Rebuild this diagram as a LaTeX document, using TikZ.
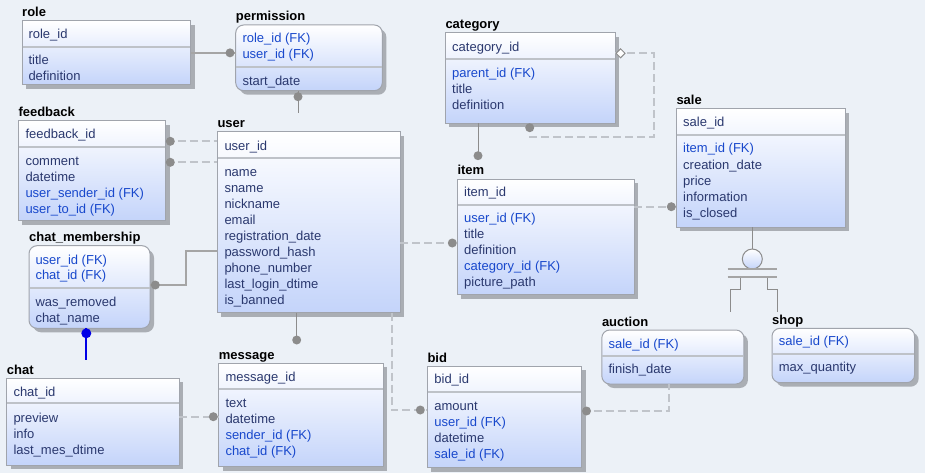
\documentclass[tikz,border=0pt]{standalone}
\usepackage{fontspec}
\setmainfont{Liberation Sans}
\definecolor{bgc}{RGB}{236,241,247}
\definecolor{botc}{RGB}{196,212,250}
\definecolor{bordc}{RGB}{160,164,172}
\definecolor{divc}{RGB}{190,194,200}
\definecolor{shadowc}{RGB}{170,174,180}
\definecolor{attrc}{RGB}{42,56,110}
\definecolor{fkc}{RGB}{24,72,204}
\definecolor{linec}{RGB}{165,165,165}
\definecolor{dashc}{RGB}{192,196,202}
\definecolor{dotc}{RGB}{140,140,140}
\definecolor{bluec}{RGB}{0,0,230}
\tikzset{
  tbl/.style={draw=bordc, line width=1pt, top color=white, bottom color=botc, inner sep=0pt, outer sep=0pt},
  divl/.style={draw=divc, line width=2pt},
  ttl/.style={anchor=base west, inner sep=0pt, font=\bfseries\fontsize{13}{15}\selectfont, text=black},
  attr/.style={anchor=base west, inner sep=0pt, font=\fontsize{13}{16}\selectfont, text=attrc},
  fk/.style={attr, text=fkc},
  sol/.style={draw=linec, line width=1.5pt},
  thinl/.style={draw=dotc, line width=1pt},
  dsh/.style={draw=dashc, line width=2pt, dash pattern=on 8pt off 4pt},
  dotf/.style={fill=dotc},
  bluel/.style={draw=bluec, line width=2pt},
  subc/.style={circle, draw=dotc, line width=1pt, top color=white, bottom color=botc, minimum size=20pt, inner sep=0pt},
  bar/.style={draw=linec, line width=2pt},
}
\newcommand{\etab}[8]{%
  \fill[shadowc,#8] ({#2+4},{#3+4}) rectangle ({#4+4},{#5+4});
  \node[tbl,#8,minimum width={(#4-#2)*1pt},minimum height={(#5-#3)*1pt}] (#1) at ({(#2+#4)/2},{(#3+#5)/2}) {};
  \draw[divl] ({#2+0.5},#6) -- ({#4-0.5},#6);
  \node[ttl] (#1-title) at (#2,{#3-4}) {#7};
}
\begin{document}
\begin{tikzpicture}[x=1pt,y=-1pt]
\useasboundingbox (0,0) rectangle (925,473);
\fill[bgc] (0,0) rectangle (925,473);

% role
\etab{role}{22}{20.7}{190.7}{85}{46.7}{role}{sharp corners}
\node[attr] (role-a1) at (28.3,38.5) {role\_id};
\node[attr] (role-a2) at (28.3,64.5) {title};
\node[attr] (role-a3) at (28.3,80.5) {definition};

% permission
\etab{perm}{235.7}{25}{382.3}{90.7}{66.7}{permission}{rounded corners=8pt}
\node[fk] (perm-a1) at (242.3,43) {role\_id (FK)};
\node[fk] (perm-a2) at (242.3,59) {user\_id (FK)};
\node[attr] (perm-a3) at (242.3,85.2) {start\_date};

% feedback
\etab{fb}{18.3}{120.7}{165.7}{220.7}{146.7}{feedback}{sharp corners}
\node[attr] (fb-a1) at (25.3,138.5) {feedback\_id};
\node[attr] (fb-a2) at (25.3,165.2) {comment};
\node[attr] (fb-a3) at (25.3,181.2) {datetime};
\node[fk] (fb-a4) at (25.3,197.2) {user\_sender\_id (FK)};
\node[fk] (fb-a5) at (25.3,213.2) {user\_to\_id (FK)};

% user
\etab{user}{217.3}{132}{400.3}{312.7}{158.3}{user}{sharp corners}
\node[attr] (user-a1) at (224.3,150.2) {user\_id};
\node[attr] (user-a2) at (224.3,176.2) {name};
\node[attr] (user-a3) at (224.3,192.2) {sname};
\node[attr] (user-a4) at (224.3,208.2) {nickname};
\node[attr] (user-a5) at (224.3,224.2) {email};
\node[attr] (user-a6) at (224.3,240.2) {registration\_date};
\node[attr] (user-a7) at (224.3,256.2) {password\_hash};
\node[attr] (user-a8) at (224.3,272.2) {phone\_number};
\node[attr] (user-a9) at (224.3,288.2) {last\_login\_dtime};
\node[attr] (user-a10) at (224.3,304.2) {is\_banned};

% chat_membership
\etab{cm}{29}{245.7}{150}{328.3}{287.7}{chat\_membership}{rounded corners=8pt}
\node[fk] (cm-a1) at (35.3,264.3) {user\_id (FK)};
\node[fk] (cm-a2) at (35.3,279.8) {chat\_id (FK)};
\node[attr] (cm-a3) at (35.3,306.2) {was\_removed};
\node[attr] (cm-a4) at (35.3,322.2) {chat\_name};

% chat
\etab{chat}{6.7}{378.3}{179.3}{465}{403.3}{chat}{sharp corners}
\node[attr] (chat-a1) at (13.3,396.2) {chat\_id};
\node[attr] (chat-a2) at (13.3,422.2) {preview};
\node[attr] (chat-a3) at (13.3,438.2) {info};
\node[attr] (chat-a4) at (13.3,454.2) {last\_mes\_dtime};

% message
\etab{msg}{218.7}{363.3}{383.3}{466.7}{389.3}{message}{sharp corners}
\node[attr] (msg-a1) at (225.3,381.2) {message\_id};
\node[attr] (msg-a2) at (225.3,407.2) {text};
\node[attr] (msg-a3) at (225.3,423.2) {datetime};
\node[fk] (msg-a4) at (225.3,439.2) {sender\_id (FK)};
\node[fk] (msg-a5) at (225.3,455.2) {chat\_id (FK)};

% category
\etab{cat}{445.3}{32.7}{615.3}{123.3}{59.3}{category}{sharp corners}
\node[attr] (cat-a1) at (452,51.2) {category\_id};
\node[fk] (cat-a2) at (452,77.2) {parent\_id (FK)};
\node[attr] (cat-a3) at (452,93.2) {title};
\node[attr] (cat-a4) at (452,109.2) {definition};

% item
\etab{item}{457.3}{179}{634.3}{294.7}{204.7}{item}{sharp corners}
\node[attr] (item-a1) at (464,196.8) {item\_id};
\node[fk] (item-a2) at (464,222.8) {user\_id (FK)};
\node[attr] (item-a3) at (464,238.8) {title};
\node[attr] (item-a4) at (464,254.8) {definition};
\node[fk] (item-a5) at (464,270.8) {category\_id (FK)};
\node[attr] (item-a6) at (464,286.8) {picture\_path};

% sale
\etab{sale}{676.3}{108.7}{845.3}{227}{135.3}{sale}{sharp corners}
\node[attr] (sale-a1) at (683,126.8) {sale\_id};
\node[fk] (sale-a2) at (683,153) {item\_id (FK)};
\node[attr] (sale-a3) at (683,169) {creation\_date};
\node[attr] (sale-a4) at (683,185) {price};
\node[attr] (sale-a5) at (683,201) {information};
\node[attr] (sale-a6) at (683,217) {is\_closed};

% bid
\etab{bid}{427.3}{366}{581.6}{467.7}{392}{bid}{sharp corners}
\node[attr] (bid-a1) at (434.2,383.8) {bid\_id};
\node[attr] (bid-a2) at (434.2,410.2) {amount};
\node[fk] (bid-a3) at (434.2,426.2) {user\_id (FK)};
\node[attr] (bid-a4) at (434.2,442.2) {datetime};
\node[fk] (bid-a5) at (434.2,458.2) {sale\_id (FK)};

% auction
\etab{auc}{601.8}{330}{743.9}{384}{356}{auction}{rounded corners=8pt}
\node[fk] (auc-a1) at (608.4,348.5) {sale\_id (FK)};
\node[attr] (auc-a2) at (608.4,373.8) {finish\_date};

% shop
\etab{shop}{772}{328.3}{914.6}{382.7}{354}{shop}{rounded corners=8pt}
\node[fk] (shop-a1) at (778.7,345.8) {sale\_id (FK)};
\node[attr] (shop-a2) at (778.7,371.8) {max\_quantity};

% ---------- connectors ----------
% role - permission
\coordinate (rpd) at (230,52.85);
\draw[sol] (role.east) -- (role.east -| perm.west);
\fill[dotf] (rpd) circle (4.5pt);

% permission - user
\coordinate (pud) at (298,96.7);
\coordinate (pue) at (298,113);
\draw[thinl] (perm.south -| pud) -- (pue);
\fill[dotf] (pud) circle (4.5pt);

% feedback - user
\coordinate (fbd1) at (170.3,141.3);
\coordinate (fbd2) at (170.3,162.3);
\draw[dsh] (fb.east |- fbd1) -- (user.west |- fbd1);
\draw[dsh] (fb.east |- fbd2) -- (user.west |- fbd2);
\fill[dotf] (fbd1) circle (4.5pt);
\fill[dotf] (fbd2) circle (4.5pt);

% chat_membership - user
\coordinate (cmd) at (155.3,285);
\coordinate (cmb) at (186,251);
\draw[sol] (cm.east |- cmd) -| (cmb) -- (user.west |- cmb);
\fill[dotf] (cmd) circle (4.5pt);

% chat_membership - chat
\coordinate (ccd) at (86.3,333.3);
\coordinate (cce) at (86.3,360);
\draw[bluel] (cm.south -| ccd) -- (cce);
\fill[bluec] (ccd) circle (5pt);

% user - message
\coordinate (umd) at (296.7,340);
\draw[thinl] (user.south -| umd) -- (umd);
\fill[dotf] (umd) circle (4.5pt);

% user - bid
\coordinate (ubc) at (391.7,410);
\coordinate (ubd) at (420.3,410);
\draw[dsh] (user.south -| ubc) -- (ubc) -- (bid.west |- ubc);
\fill[dotf] (ubd) circle (4.5pt);

% user - item
\coordinate (uid) at (452.3,243);
\draw[dsh] (user.east |- uid) -- (item.west |- uid);
\fill[dotf] (uid) circle (4.5pt);

% chat - message
\coordinate (cmsd) at (213.3,416.7);
\draw[dsh] (chat.east |- cmsd) -- (msg.west |- cmsd);
\fill[dotf] (cmsd) circle (4.5pt);

% category self reference
\coordinate (cs1) at (654.3,53.3);
\coordinate (cs2) at (529.7,136.7);
\coordinate (csd) at (529.7,127.7);
\draw[dsh] (cat.east |- cs1) -- (cs1) |- (cs2) -- (cat.south -| cs2);
\filldraw[draw=dotc, fill=white, line width=1pt] (616,53.3) -- (620.5,48.8) -- (625,53.3) -- (620.5,57.8) -- cycle;
\fill[dotf] (csd) circle (4.5pt);

% category - item
\coordinate (cid) at (478,155.7);
\draw[thinl] (cat.south -| cid) -- (cid);
\fill[dotf] (cid) circle (4.5pt);

% item - sale
\coordinate (isd) at (671.3,206.7);
\draw[dsh] (item.east |- isd) -- (sale.west |- isd);
\fill[dotf] (isd) circle (4.5pt);

% bid - auction
\coordinate (bad) at (586.5,411);
\coordinate (bac) at (668.5,411);
\draw[dsh] (bid.east |- bad) -- (bac) -- (auc.south -| bac);
\fill[dotf] (bad) circle (4.5pt);

% sale subtype
\node[subc] (subtype) at (752.3,259) {};
\draw[thinl] (sale.south -| subtype) -- (subtype.north);
\draw[bar] (727.7,269) -- (776.7,269);
\draw[bar] (727.7,276.7) -- (776.7,276.7);
\coordinate (stl) at (730.7,311.7);
\coordinate (str) at (777.3,311.7);
\draw[thinl] (740.7,277.7) -- (740.7,289.3) -| (stl);
\draw[thinl] (767.7,277.7) -- (767.7,289.3) -| (str);
\end{tikzpicture}
\end{document}
